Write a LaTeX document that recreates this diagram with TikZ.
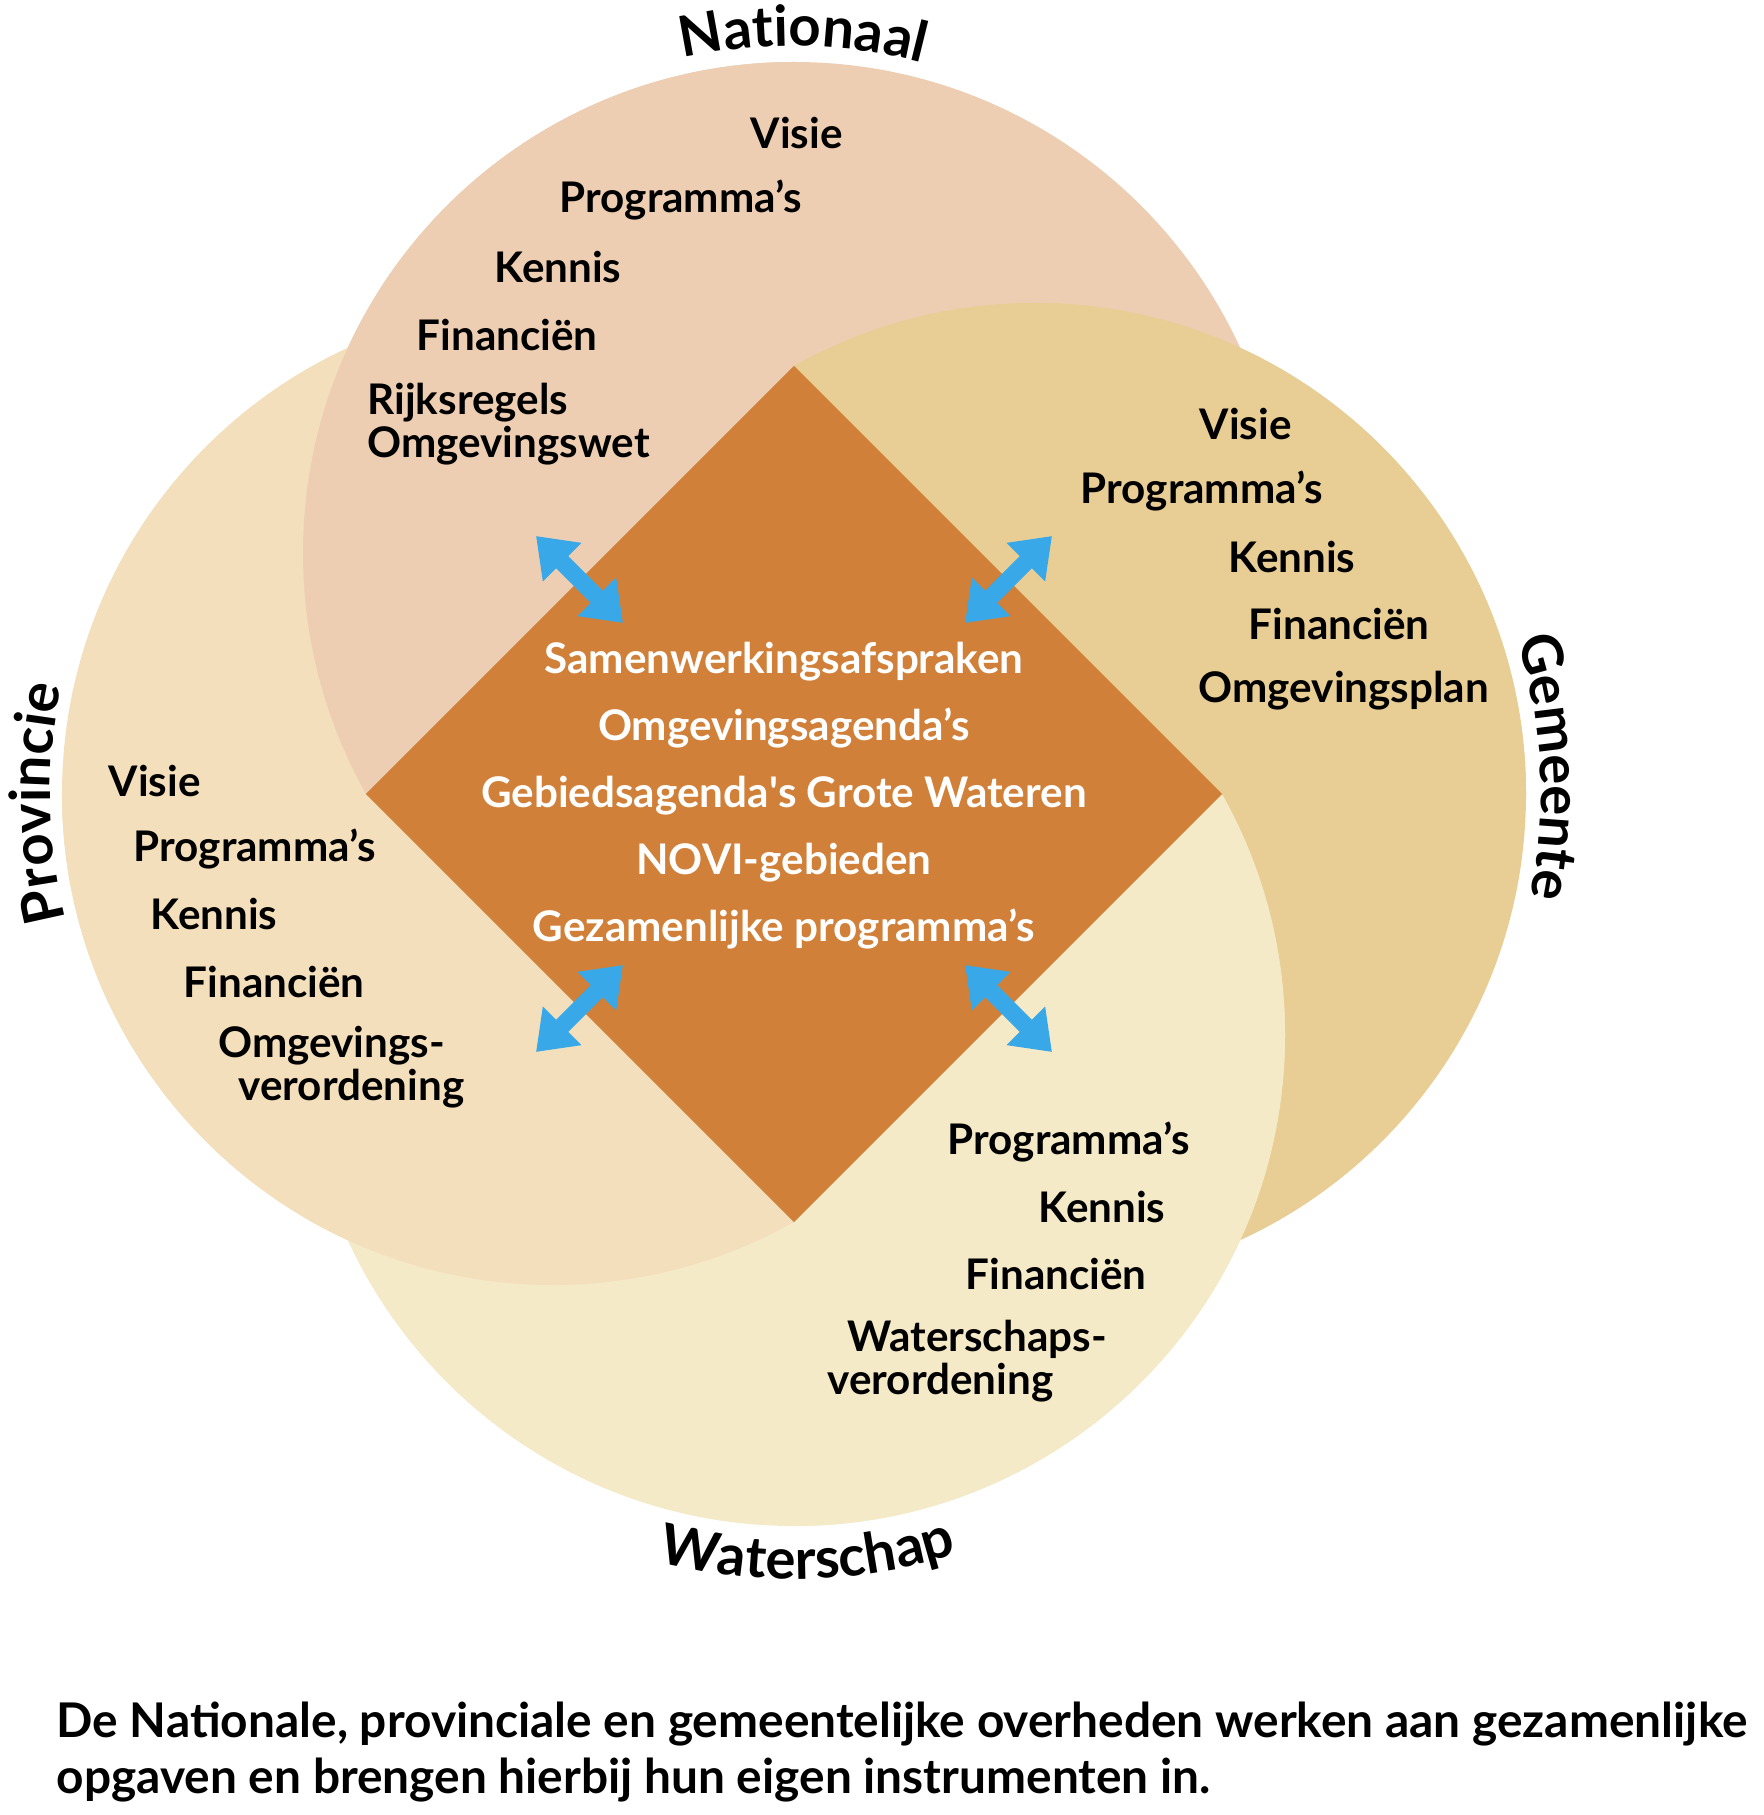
\documentclass[tikz,border=0pt]{standalone}
\usepackage{fontspec}
\setmainfont{Lato}
\usetikzlibrary{arrows.meta, decorations.text}
\definecolor{natfill}{RGB}{237,206,178}
\definecolor{provfill}{RGB}{244,223,188}
\definecolor{gemfill}{RGB}{232,206,148}
\definecolor{watfill}{RGB}{245,234,199}
\definecolor{corefill}{RGB}{208,128,56}
\definecolor{arrowblue}{RGB}{57,168,232}
\newcommand{\itemfont}{\bfseries\fontsize{12}{12.2}\selectfont}
\newcommand{\corefont}{\bfseries\fontsize{12}{19.06}\selectfont}
\newcommand{\labelfont}{\bfseries\fontsize{16}{16}\selectfont}
\newcommand{\notefont}{\bfseries\fontsize{13.6}{15.8}\selectfont}

\begin{document}
\begin{tikzpicture}[x=0.01cm, y=0.01cm,
    item/.style={anchor=west, inner sep=0pt, align=left, font=\itemfont},
    core/.style={inner sep=0pt, align=center, text=white, font=\corefont},
    link/.style={{Triangle[length=0.37cm, width=0.52cm]}-{Triangle[length=0.37cm, width=0.52cm]},
                 line width=0.17cm, draw=arrowblue},
    arclabel/.style={decorate, decoration={text along path, text align=center, text={|\labelfont|#1}}}
]
    \fill[white] (-794,-1021) rectangle (969,794);
    \useasboundingbox (-794,-1021) rectangle (969,794);

    % circle centres
    \coordinate (nat)  at (0,241);
    \coordinate (prov) at (-241,0);
    \coordinate (gem)  at (241,0);
    \coordinate (wat)  at (0,-241);

    \fill[natfill]  (nat)  circle[radius=491];
    \fill[provfill] (prov) circle[radius=491];
    \fill[gemfill]  (gem)  circle[radius=491];
    \fill[watfill]  (wat)  circle[radius=491];

    % each circle lies on top in its own quarter
    \begin{scope}
        \clip (-800,0) rectangle (0,800);
        \fill[natfill] (nat) circle[radius=491];
    \end{scope}
    \begin{scope}
        \clip (0,0) rectangle (1000,800);
        \fill[gemfill] (gem) circle[radius=491];
    \end{scope}
    \begin{scope}
        \clip (0,0) rectangle (1000,-800);
        \fill[watfill] (wat) circle[radius=491];
    \end{scope}
    \begin{scope}
        \clip (-800,0) rectangle (0,-800);
        \fill[provfill] (prov) circle[radius=491];
    \end{scope}

    \fill[corefill] (0,428) -- (428,0) -- (0,-428) -- (-428,0) -- cycle;

    % labels round the circles
    \path[arclabel=Nationaal]  (nat)  ++(114:507) arc[start angle=114, end angle=64, radius=507];
    \path[arclabel=Gemeente]   (gem)  ++(26:506) arc[start angle=26, end angle=-20, radius=506];
    \path[arclabel=Waterschap] (wat)  ++(-114:544) arc[start angle=-114, end angle=-63, radius=544];
    \path[arclabel=Provincie]  (prov) ++(206:503) arc[start angle=206, end angle=156, radius=503];

    % Nationaal
    \node[item] (nat-visie) at (-44,661) {Visie};
    \node[item] (nat-prog)  at (-235,594) {Programma’s};
    \node[item] (nat-ken)   at (-300,527) {Kennis};
    \node[item] (nat-fin)   at (-378,459) {Financiën};
    \node[item] (nat-regel) at (-427,370) {Rijksregels\\Omgevingswet};

    % Gemeente
    \node[item] (gem-visie) at (405,370) {Visie};
    \node[item] (gem-prog)  at (286,303) {Programma’s};
    \node[item] (gem-ken)   at (434,237) {Kennis};
    \node[item] (gem-fin)   at (454,170) {Financiën};
    \node[item] (gem-plan)  at (404,103) {Omgevingsplan};

    % Provincie
    \node[item] (prov-visie) at (-686,13) {Visie};
    \node[item] (prov-prog)  at (-661,-55) {Programma’s};
    \node[item] (prov-ken)   at (-644,-120) {Kennis};
    \node[item] (prov-fin)   at (-611,-188) {Financiën};
    \node[item] (prov-verord) at (-576,-273) {Omgevings-\\\hspace*{0.2cm}verordening};

    % Waterschap
    \node[item] (wat-prog)   at (153,-348) {Programma’s};
    \node[item] (wat-ken)    at (244,-413) {Kennis};
    \node[item] (wat-fin)    at (171,-480) {Financiën};
    \node[item] (wat-verord) at (33,-567) {\hspace*{0.2cm}Waterschaps-\\verordening};

    % shared work in the middle
    \node[core] (shared) at (-10,-2) {Samenwerkingsafspraken\\Omgevingsagenda’s\\
        Gebiedsagenda\textquotesingle s Grote Wateren\\NOVI-gebieden\\Gezamenlijke programma’s};

    \coordinate (ul-a) at (-258,258);   \coordinate (ul-b) at (-171,171);
    \coordinate (ur-a) at (258,258);    \coordinate (ur-b) at (171,171);
    \coordinate (ll-a) at (-171,-171);  \coordinate (ll-b) at (-258,-258);
    \coordinate (lr-a) at (171,-171);   \coordinate (lr-b) at (258,-258);
    \draw[link] (ul-a) -- (ul-b);
    \draw[link] (ur-a) -- (ur-b);
    \draw[link] (ll-a) -- (ll-b);
    \draw[link] (lr-a) -- (lr-b);

    \node[anchor=west, inner sep=0pt, align=left, font=\notefont] (note) at (-738,-958)
        {De Nationale, provinciale en gemeentelijke overheden werken aan gezamenlijke\\
         opgaven en brengen hierbij hun eigen instrumenten in.};
\end{tikzpicture}
\end{document}
